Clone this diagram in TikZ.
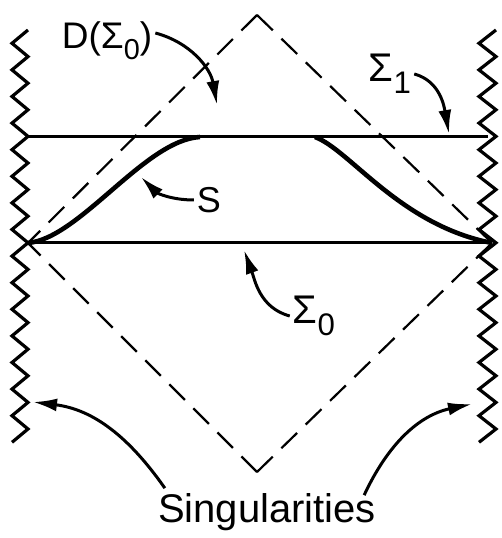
\documentclass[tikz,border=0pt]{standalone}
\usepackage{fontspec}
\setmainfont{Liberation Sans}
\usepackage{tikz}
\usetikzlibrary{arrows.meta, calc}

\newcommand{\sigsub}[1]{Σ\raisebox{-0.3em}{\scalebox{0.78}{#1}}}

\tikzset{
  lab/.style={inner sep=0pt, font=\fontsize{#1}{#1}\selectfont},
  zz/.style={line width=3.2pt, line join=miter},
  dashline/.style={line width=2.2pt, dash pattern=on 22pt off 12pt},
  sigma/.style={line width=3pt},
  surf/.style={line width=4.6pt},
  arr/.style={line width=3pt, -{Latex[length=24pt, width=13pt]}}
}

\begin{document}
\begin{tikzpicture}[x=1pt, y=1pt]
    \useasboundingbox (0,0) rectangle (501,538);
    % 1. Diem chinh
    \coordinate (top) at (257,523);
    \coordinate (bot) at (257,66);
    \coordinate (L0) at (28,295);
    \coordinate (R0) at (492,295);
    \coordinate (L1) at (28,401);
    \coordinate (R1) at (488,401);
    \coordinate (S1) at (200,401);
    \coordinate (S2) at (315,401);

    % 2. Ky di (zigzag)
    \draw[zz] (28,508) \foreach \k in {1,...,31} { -- ({28-16*mod(\k,2)},{508-13.3*\k}) };
    \draw[zz] (496,508) \foreach \k in {1,...,31} { -- ({496-17*mod(\k,2)},{508-13.3*\k}) };

    % 3. Mien D(Sigma_0)
    \draw[dashline] (top) -- (R0);
    \draw[dashline] (top) -- (L0);
    \draw[dashline] (bot) -- (R0);
    \draw[dashline] (bot) -- (L0);

    % 4. Sigma_0, Sigma_1 va S
    \draw[sigma] (L1) -- (R1);
    \draw[sigma] (L0) -- (R0);
    \draw[surf] (L0) .. controls (80,300) and (145,398) .. (S1);
    \draw[surf] (S2) .. controls (350,388) and (400,313) .. (R0);

    % 5. Nhan
    \node[lab=37] (dlab) at (107,497) {D(\sigsub{0})};
    \node[lab=40] (s1lab) at (390,464) {\sigsub{1}};
    \node[lab=36] (slab) at (209,338) {S};
    \node[lab=40] (s0lab) at (314,222) {\sigsub{0}};
    \node[lab=40] (sing) at (267,26) {Singularities};

    \coordinate (dtip) at (217,433);
    \coordinate (s1tip) at (449,404);
    \coordinate (stip) at (141,361);
    \coordinate (s0tip) at (244,288);
    \coordinate (ltip) at (33,136);
    \coordinate (rtip) at (472,134);

    \draw[arr] ([xshift=3pt,yshift=8pt]dlab.east) to[out=-15, in=100] (dtip);
    \draw[arr] ([xshift=3pt]s1lab.east) to[out=-15, in=100] (s1tip);
    \draw[arr] ([xshift=-3pt]slab.west) to[out=180, in=-45] (stip);
    \draw[arr] ([xshift=-3pt]s0lab.west) to[out=165, in=-70] (s0tip);
    \draw[arr] ($(sing.north west)+(7,5)$) to[out=125, in=-7] (ltip);
    \draw[arr] ($(sing.north east)+(-12,-2)$) to[out=65, in=-168] (rtip);
\end{tikzpicture}
\end{document}
